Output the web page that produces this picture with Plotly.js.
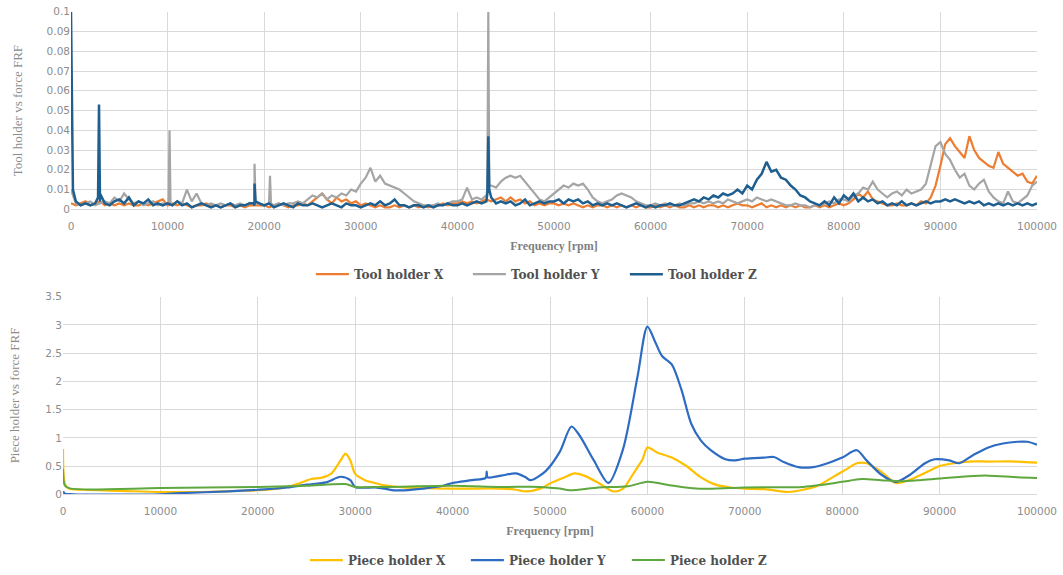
<!DOCTYPE html>
<html>
<head>
<meta charset="utf-8">
<script src="https://cdn.plot.ly/plotly-3.0.1.min.js"></script>
<style>html,body{margin:0;padding:0;background:#fff;}#chart{width:1063px;height:575px;}</style>
</head>
<body>
<div id="chart"></div>
<script>
// ---------- DATA ----------
// Tool holder FRFs, sampled every 500 rpm from 0 to 100000
const toolGridStart = 0, toolGridStep = 500, toolGridCount = 201;

const toolX = [
0.003,0.002,0.003,0.004,0.002,0.003,0.004,0.002,0.003,0.002,
0.003,0.002,0.003,0.002,0.002,0.003,0.002,0.003,0.004,0.005,
0.002,0.003,0.002,0.003,0.002,0.001,0.002,0.002,0.003,0.002,
0.002,0.001,0.002,0.002,0.001,0.002,0.001,0.002,0.002,0.002,
0.002,0.001,0.002,0.003,0.002,0.001,0.002,0.002,0.003,0.002,
0.004,0.006,0.008,0.005,0.003,0.006,0.004,0.005,0.003,0.004,
0.002,0.003,0.002,0.001,0.002,0.001,0.001,0.002,0.001,0.002,
0.001,0.002,0.001,0.002,0.001,0.002,0.002,0.003,0.002,0.003,
0.003,0.004,0.003,0.004,0.003,0.004,0.005,0.004,0.005,0.006,
0.004,0.006,0.004,0.005,0.003,0.004,0.002,0.003,0.002,0.003,
0.003,0.002,0.003,0.002,0.003,0.002,0.001,0.002,0.001,0.002,
0.002,0.001,0.002,0.001,0.002,0.001,0.002,0.001,0.002,0.001,
0.001,0.002,0.001,0.002,0.001,0.002,0.001,0.001,0.002,0.001,
0.002,0.001,0.002,0.002,0.001,0.002,0.001,0.002,0.003,0.002,
0.002,0.001,0.002,0.003,0.001,0.002,0.001,0.002,0.001,0.002,
0.001,0.002,0.001,0.001,0.002,0.001,0.002,0.001,0.002,0.003,
0.002,0.003,0.005,0.008,0.006,0.009,0.005,0.004,0.003,0.002,
0.002,0.003,0.002,0.002,0.003,0.002,0.004,0.003,0.006,0.012,
0.022,0.033,0.036,0.032,0.029,0.026,0.037,0.030,0.026,0.024,
0.022,0.021,0.029,0.023,0.021,0.019,0.017,0.018,0.014,0.013,
0.017
];

const toolY = [
0.010,0.003,0.002,0.003,0.004,0.002,0.003,0.004,0.003,0.006,
0.004,0.008,0.005,0.003,0.004,0.002,0.003,0.004,0.002,0.003,
0.003,0.002,0.004,0.003,0.010,0.004,0.008,0.003,0.002,0.003,
0.002,0.003,0.002,0.003,0.002,0.003,0.002,0.003,0.002,0.003,
0.002,0.003,0.002,0.003,0.002,0.003,0.003,0.004,0.003,0.005,
0.007,0.006,0.008,0.005,0.007,0.006,0.008,0.007,0.010,0.009,
0.013,0.016,0.021,0.014,0.017,0.013,0.012,0.011,0.010,0.008,
0.006,0.004,0.003,0.002,0.002,0.002,0.003,0.002,0.003,0.004,
0.004,0.005,0.011,0.005,0.006,0.005,0.007,0.012,0.011,0.014,
0.016,0.017,0.016,0.017,0.014,0.011,0.008,0.005,0.004,0.006,
0.008,0.010,0.012,0.011,0.013,0.012,0.013,0.010,0.006,0.004,
0.003,0.004,0.005,0.007,0.008,0.007,0.006,0.004,0.003,0.002,
0.002,0.003,0.002,0.003,0.002,0.002,0.003,0.002,0.003,0.003,
0.004,0.003,0.004,0.003,0.004,0.003,0.005,0.004,0.003,0.004,
0.005,0.004,0.006,0.005,0.004,0.005,0.004,0.003,0.002,0.002,
0.003,0.002,0.002,0.001,0.002,0.002,0.003,0.004,0.003,0.005,
0.005,0.004,0.007,0.008,0.011,0.010,0.014,0.010,0.008,0.006,
0.008,0.009,0.007,0.010,0.008,0.009,0.010,0.013,0.022,0.032,
0.034,0.028,0.025,0.020,0.016,0.018,0.012,0.010,0.013,0.015,
0.009,0.006,0.004,0.003,0.009,0.004,0.003,0.005,0.007,0.012,
0.014
];

const toolZ = [
0.100,0.004,0.002,0.003,0.002,0.003,0.004,0.003,0.002,0.004,
0.005,0.003,0.006,0.002,0.004,0.003,0.005,0.002,0.003,0.002,
0.003,0.002,0.004,0.002,0.003,0.001,0.002,0.003,0.002,0.001,
0.002,0.001,0.002,0.003,0.001,0.002,0.002,0.003,0.002,0.003,
0.002,0.003,0.001,0.002,0.003,0.002,0.001,0.003,0.002,0.002,
0.003,0.002,0.001,0.002,0.003,0.002,0.001,0.003,0.002,0.002,
0.001,0.002,0.003,0.002,0.004,0.002,0.003,0.005,0.002,0.002,
0.001,0.002,0.002,0.001,0.002,0.001,0.002,0.002,0.003,0.002,
0.002,0.003,0.002,0.003,0.004,0.003,0.004,0.006,0.003,0.004,
0.003,0.004,0.002,0.003,0.005,0.002,0.003,0.004,0.003,0.004,
0.004,0.005,0.003,0.005,0.004,0.005,0.003,0.004,0.002,0.003,
0.002,0.003,0.002,0.003,0.002,0.001,0.002,0.003,0.002,0.001,
0.002,0.001,0.002,0.002,0.003,0.002,0.002,0.003,0.004,0.005,
0.004,0.006,0.005,0.007,0.006,0.008,0.007,0.008,0.010,0.008,
0.012,0.010,0.015,0.018,0.024,0.019,0.020,0.016,0.015,0.012,
0.010,0.007,0.006,0.004,0.003,0.002,0.004,0.002,0.006,0.003,
0.007,0.005,0.008,0.004,0.006,0.004,0.005,0.003,0.004,0.002,
0.003,0.002,0.004,0.002,0.003,0.002,0.003,0.004,0.003,0.004,
0.004,0.005,0.004,0.005,0.004,0.003,0.004,0.003,0.004,0.002,
0.003,0.002,0.003,0.002,0.003,0.002,0.003,0.002,0.003,0.002,
0.003
];

// narrow resonance spikes [rpm, value]
const toolYSpikes = [[10100,0.003],[10200,0.040],[10300,0.003],[18900,0.003],[19000,0.023],[19100,0.003],
                     [20500,0.003],[20600,0.017],[20700,0.003],[43100,0.010],[43200,0.100],[43300,0.012]];
const toolZSpikes = [[200,0.010],[2800,0.006],[2900,0.053],[3000,0.008],[18900,0.003],[19000,0.013],[19100,0.004],
                     [43100,0.008],[43200,0.037],[43300,0.010]];

// Piece holder FRFs
const pieceXFreq = [0,200,600,2000,6000,10000,14000,18000,21000,23000,24000,25500,26500,27500,28500,29000,29500,30000,31000,32000,33000,35000,40000,45000,46500,47500,49000,50000,51500,52500,53500,55000,56500,57500,58500,59500,60000,61000,62500,64000,65500,67000,68500,70000,72000,74500,76000,77500,79000,80500,81500,82500,84000,85500,87000,89000,90000,91500,93000,95000,98000,100000];
const pieceXVals = [0.80,0.18,0.10,0.08,0.06,0.04,0.04,0.06,0.08,0.13,0.18,0.27,0.29,0.36,0.60,0.72,0.60,0.36,0.25,0.20,0.16,0.12,0.10,0.10,0.08,0.05,0.10,0.19,0.30,0.37,0.33,0.20,0.05,0.10,0.35,0.62,0.83,0.74,0.65,0.50,0.30,0.17,0.12,0.10,0.09,0.04,0.08,0.15,0.30,0.45,0.55,0.55,0.40,0.20,0.26,0.42,0.50,0.55,0.58,0.58,0.58,0.56];

const pieceYFreq = [0,200,1000,10000,12000,17000,20000,23000,25000,27000,28500,29500,30000,32000,33000,34000,35000,37000,39000,40000,42000,43400,43500,43600,45000,46500,47500,48000,49500,51000,52200,53000,54500,56000,57500,59000,60000,60800,61500,62500,63500,64500,65500,66500,68000,69000,70000,72000,73000,74000,75500,77000,78500,80000,81500,82500,84000,85500,87000,88500,89500,91000,92000,93500,95000,96500,98000,99000,100000];
const pieceYVals = [0.05,0.01,0.00,0.00,0.02,0.05,0.08,0.12,0.17,0.21,0.31,0.25,0.13,0.12,0.10,0.07,0.07,0.10,0.15,0.20,0.25,0.29,0.40,0.30,0.33,0.37,0.30,0.25,0.40,0.75,1.20,1.05,0.60,0.20,0.80,2.10,2.97,2.70,2.45,2.30,1.85,1.25,0.95,0.78,0.62,0.60,0.63,0.65,0.66,0.57,0.48,0.48,0.55,0.65,0.78,0.60,0.35,0.22,0.35,0.55,0.62,0.60,0.55,0.70,0.83,0.90,0.93,0.93,0.88];

const pieceZFreq = [0,200,800,10000,20000,25000,29000,30000,33000,40000,45000,49000,51000,52000,55000,58000,60000,62000,65000,67000,70000,76000,78000,80000,82000,84000,86000,88000,90000,93000,95000,98000,100000];
const pieceZVals = [0.45,0.15,0.10,0.11,0.13,0.15,0.18,0.13,0.13,0.15,0.13,0.13,0.10,0.07,0.12,0.14,0.22,0.17,0.10,0.10,0.12,0.13,0.17,0.22,0.27,0.25,0.23,0.25,0.28,0.32,0.33,0.30,0.29];

const toolNames = ['Tool holder X','Tool holder Y','Tool holder Z'];
const pieceNames = ['Piece holder X','Piece holder Y','Piece holder Z'];

// ---------- BUILD ----------
const toolFreq = Array.from({length: toolGridCount}, (_, i) => toolGridStart + i * toolGridStep);
function withSpikes(xs, ys, spikes) {
  const pts = xs.map((x, i) => [x, ys[i]]).concat(spikes);
  pts.sort((a, b) => a[0] - b[0]);
  return {x: pts.map(p => p[0]), y: pts.map(p => p[1])};
}
const tX = withSpikes(toolFreq, toolX, []);
const tY = withSpikes(toolFreq, toolY, toolYSpikes);
const tZ = withSpikes(toolFreq, toolZ, toolZSpikes);

const serif = 'Liberation Serif, Times New Roman, serif';
const wideSerif = 'DejaVu Serif, serif';
const sans = 'DejaVu Sans, Verdana, sans-serif';
const tickFont = {family: sans, size: 10.5, color: '#8c8c8c'};
const legFont = {family: wideSerif, size: 12, color: '#505050', weight: 'bold'};

const traces = [
  {x: tX.x, y: tX.y, name: toolNames[0], mode: 'lines', line: {color: '#ED7D31', width: 2.2}, xaxis: 'x', yaxis: 'y', legend: 'legend'},
  {x: tY.x, y: tY.y, name: toolNames[1], mode: 'lines', line: {color: '#A5A5A5', width: 2.2}, xaxis: 'x', yaxis: 'y', legend: 'legend'},
  {x: tZ.x, y: tZ.y, name: toolNames[2], mode: 'lines', line: {color: '#1F5F8F', width: 2.5}, xaxis: 'x', yaxis: 'y', legend: 'legend'},
  {x: pieceXFreq, y: pieceXVals, name: pieceNames[0], mode: 'lines', line: {color: '#FFC000', width: 2.2, shape: 'spline', smoothing: 0.8}, xaxis: 'x2', yaxis: 'y2', legend: 'legend2'},
  {x: pieceYFreq, y: pieceYVals, name: pieceNames[1], mode: 'lines', line: {color: '#2E6BC2', width: 2.2, shape: 'spline', smoothing: 0.8}, xaxis: 'x2', yaxis: 'y2', legend: 'legend2'},
  {x: pieceZFreq, y: pieceZVals, name: pieceNames[2], mode: 'lines', line: {color: '#5FA83F', width: 2, shape: 'spline', smoothing: 0.8}, xaxis: 'x2', yaxis: 'y2', legend: 'legend2'}
];

const W = 1063, H = 575;
const xAxisBase = {
  range: [0, 100000], dtick: 10000, tickformat: 'd', showgrid: true, gridcolor: '#d9d9d9', gridwidth: 1,
  zeroline: false, showline: true, linecolor: '#d9d9d9', ticks: '', tickfont: tickFont, automargin: false,
  ticklabelstandoff: 7,
  title: {text: 'Frequency [rpm]', font: {family: serif, size: 12, color: '#7f7f7f', weight: 'bold'}, standoff: 10}
};
const yAxisBase = {
  showgrid: true, gridcolor: '#d9d9d9', gridwidth: 1, zeroline: false, showline: false, ticks: '',
  tickfont: tickFont, automargin: false
};

const layout = {
  width: W, height: H,
  margin: {l: 0, r: 0, t: 0, b: 0},
  paper_bgcolor: '#fff', plot_bgcolor: '#fff',
  hovermode: false,
  xaxis: Object.assign({}, xAxisBase, {domain: [71 / W, 1037 / W], anchor: 'y'}),
  yaxis: Object.assign({}, yAxisBase, {domain: [1 - 213 / H, 1 - 12 / H], range: [0, 0.1], dtick: 0.01, anchor: 'x',
    title: {text: 'Tool holder vs force FRF', font: {family: serif, size: 13, color: '#8c8c8c'}, standoff: 21}}),
  xaxis2: Object.assign({}, xAxisBase, {domain: [63 / W, 1037 / W], anchor: 'y2'}),
  yaxis2: Object.assign({}, yAxisBase, {domain: [1 - 503 / H, 1 - 302 / H], range: [0, 3.5], dtick: 0.5, anchor: 'x2',
    title: {text: 'Piece holder vs force FRF', font: {family: serif, size: 13, color: '#8c8c8c'}, standoff: 22}}),
  legend: {orientation: 'h', x: 0.514, xanchor: 'center', y: 1 - 279 / H, yanchor: 'middle', font: legFont, itemwidth: 33, entrywidth: 109, bgcolor: 'rgba(0,0,0,0)'},
  legend2: {orientation: 'h', x: 0.514, xanchor: 'center', y: 1 - 570 / H, yanchor: 'middle', font: legFont, itemwidth: 33, entrywidth: 113, bgcolor: 'rgba(0,0,0,0)'},
  showlegend: true
};

Plotly.newPlot('chart', traces, layout, {displayModeBar: false, staticPlot: true});
</script>
</body>
</html>
